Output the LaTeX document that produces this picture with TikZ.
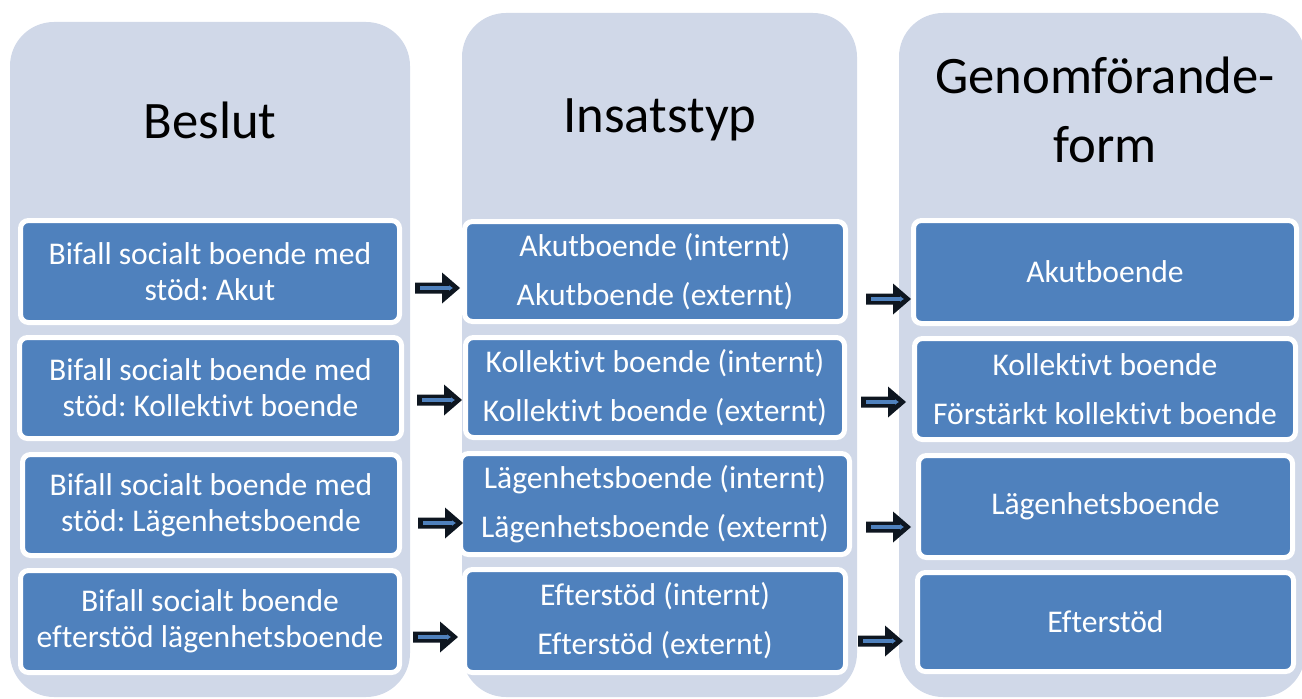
\documentclass[tikz,border=0pt]{standalone}
\usepackage{fontspec}
\setmainfont{Carlito}[Ligatures=NoCommon]
\usetikzlibrary{arrows.meta}
\frenchspacing
\definecolor{colbg}{RGB}{208,216,232}
\definecolor{boxblue}{RGB}{79,129,189}
\definecolor{arrdark}{RGB}{14,22,32}
\tikzset{
  colbox/.style 2 args={draw=none, fill=colbg, rounded corners=33pt,
    minimum width=#1*0.75pt, minimum height=#2*0.75pt, inner sep=0pt},
  header/.style={text=black, font=\fontsize{39.5}{51.5}\selectfont, align=center, inner sep=0pt},
  bluebox/.style 2 args={draw=white, line width=3.75pt, fill=boxblue, rounded corners=6pt,
    minimum width=#1*0.75pt, minimum height=#2*0.75pt, inner sep=0pt,
    text=white, align=center, font=\fontsize{23.7}{27}\selectfont},
  blockarr/.pic={
    \fill[arrdark] (0,-5.5) -- (27,-5.5) -- (27,-15.5) -- (45,0) -- (27,15.5) -- (27,5.5) -- (0,5.5) -- cycle;
    \draw[boxblue, line width=2.6pt, -{Latex[length=3pt,width=4.5pt]}] (5,0) -- (38,0);
  }
}
\begin{document}
\begin{tikzpicture}[x=0.75pt, y=-0.75pt]
\useasboundingbox (0,0) rectangle (1302,699);
\begin{scope}
\clip (0,0) rectangle (1302,699);
% columns
\node[colbox={400}{675}] (col1) at (210,359.5) {};
\node[colbox={395}{684}] (col2) at (659.5,355) {};
\node[colbox={406}{684}] (col3) at (1102,355) {};
\end{scope}
% headers
\node[header, anchor=base] (h1) at (210,138) {Beslut};
\node[header, anchor=base] (h2) at (660,132) {Insatstyp};
\node[header] (h3) at (1105,110) {Genomförande-\\form};
% column 1
\node[bluebox={379}{102}] (a1) at (210,271.5) {Bifall socialt boende med\\stöd: Akut};
\node[bluebox={382}{101}] (a2) at (210.5,388) {Bifall socialt boende med\\stöd: Kollektivt boende};
\node[bluebox={377}{101}] (a3) at (211,505) {Bifall socialt boende med\\stöd: Lägenhetsboende};
\node[bluebox={379}{102}] (a4) at (210,621.5) {Bifall socialt boende\\efterstöd lägenhetsboende};
% column 2
\node[bluebox={381}{100}] (b1) at (655,271.5) {Akutboende (internt)\\[9.75pt]Akutboende (externt)};
\node[bluebox={379}{100}] (b2) at (655,387.5) {Kollektivt boende (internt)\\[9.75pt]Kollektivt boende (externt)};
\node[bluebox={389}{101}] (b3) at (655,504) {Lägenhetsboende (internt)\\[9.75pt]Lägenhetsboende (externt)};
\node[bluebox={381}{103}] (b4) at (655,621) {Efterstöd (internt)\\[9.75pt]Efterstöd (externt)};
% column 3
\node[bluebox={383}{103}] (c1) at (1105,272) {Akutboende};
\node[bluebox={381}{101}] (c2) at (1105,389) {Kollektivt boende\\[9.75pt]Förstärkt kollektivt boende};
\node[bluebox={374}{102}] (c3) at (1105.5,506.5) {Lägenhetsboende};
\node[bluebox={376}{99}] (c4) at (1105.5,622) {Efterstöd};
% arrows
\pic (ab1) at (415,288) {blockarr};
\pic (ab2) at (417,400) {blockarr};
\pic (ab3) at (418,523) {blockarr};
\pic (ab4) at (413,637) {blockarr};
\pic (bc1) at (866,299) {blockarr};
\pic (bc2) at (861,402) {blockarr};
\pic (bc3) at (866,527) {blockarr};
\pic (bc4) at (858,641) {blockarr};
\end{tikzpicture}
\end{document}
